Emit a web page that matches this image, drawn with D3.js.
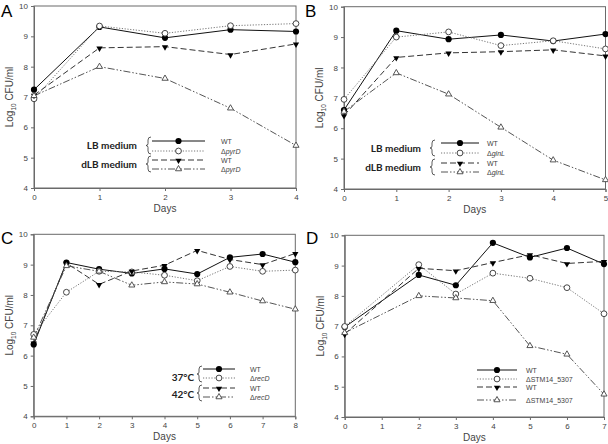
<!DOCTYPE html>
<html><head><meta charset="utf-8">
<script src="https://cdn.jsdelivr.net/npm/d3@7"></script>
<style>body{margin:0;background:#fff}svg{display:block}</style>
</head><body><svg id="c" width="608" height="444"></svg>
<script>
// ---- data ----
const aDays = [0,1,2,3,4];
const aWtLB = [7.24,9.31,8.95,9.22,9.16];
const aMutLB = [6.94,9.34,9.10,9.35,9.42];
const aWtDLB = [7.06,8.62,8.66,8.40,8.75];
const aMutDLB = [7.04,8.00,7.61,6.63,5.40];

const bDays = [0,1,2,3,4,5];
const bWtLB = [6.60,9.21,8.93,9.07,8.87,9.10];
const bMutLB = [6.95,9.00,9.17,8.72,8.88,8.61];
const bWtDLB = [6.42,8.33,8.48,8.52,8.58,8.38];
const bMutDLB = [6.55,7.82,7.12,6.03,4.95,4.30];

const cDays = [0,1,2,3,4,5,6,7,8];
const cWt37 = [6.37,9.07,8.85,8.71,8.86,8.69,9.24,9.35,9.08];
const cMut37 = [6.70,8.09,8.78,8.76,8.65,8.47,8.94,8.78,8.82];
const cWt42 = [6.42,9.05,8.35,8.79,8.98,9.47,9.17,9.00,9.37];
const cMut42 = [6.60,8.96,8.78,8.32,8.43,8.36,8.09,7.80,7.53];

const dDays = [0,2,3,4,5,6,7];
const dWt1 = [6.97,8.69,8.35,9.75,9.27,9.58,9.05];
const dMut1 = [6.99,9.03,8.06,8.75,8.58,8.27,7.41];
const dWt2 = [6.74,8.91,8.83,9.10,9.36,9.07,9.14];
const dMut2 = [6.78,8.00,7.93,7.84,6.35,6.07,4.75];

const yTicks = [4,5,6,7,8,9,10];

// ---- styles ----
const styles = [
  {dash:null, color:"#111", marker:"fcircle", width:1},
  {dash:"1.2,1.6", color:"#777", marker:"ocircle", width:1},
  {dash:"6,3", color:"#333", marker:"ftri", width:1},
  {dash:"7,2,1.5,2,1.5,2", color:"#555", marker:"otri", width:1}
];

const svg = d3.select("#c");
const font = "Arial, 'Liberation Sans', sans-serif";

function marker(g, type, x, y) {
  if (type === "fcircle") g.append("circle").attr("cx",x).attr("cy",y).attr("r",3.1).attr("fill","#000");
  else if (type === "ocircle") g.append("circle").attr("cx",x).attr("cy",y).attr("r",2.9).attr("fill","#fff").attr("stroke","#333").attr("stroke-width",0.9);
  else if (type === "ftri") g.append("path").attr("d",d3.symbol().type(d3.symbolTriangle).size(17)()).attr("transform",`translate(${x},${y+0.5}) rotate(180)`).attr("fill","#000");
  else g.append("path").attr("d",d3.symbol().type(d3.symbolTriangle).size(16)()).attr("transform",`translate(${x},${y})`).attr("fill","#fff").attr("stroke","#444").attr("stroke-width",0.9);
}

function panel(cfg) {
  const x = d3.scaleLinear().domain([0, cfg.xmax]).range([cfg.l, cfg.r]);
  const y = d3.scaleLinear().domain([4, 10]).range([cfg.b, cfg.t]);
  const g = svg.append("g");
  g.append("rect").attr("x",cfg.l).attr("y",cfg.t).attr("width",cfg.r-cfg.l).attr("height",cfg.b-cfg.t)
    .attr("fill","none").attr("stroke","#6a6a6a").attr("stroke-width",1);
  const xa = g.append("g").attr("transform",`translate(0,${cfg.b})`)
    .call(d3.axisBottom(x).tickValues(d3.range(0,cfg.xmax+1)).tickFormat(d3.format("d")).tickSize(3).tickPadding(3));
  const ya = g.append("g").attr("transform",`translate(${cfg.l},0)`)
    .call(d3.axisLeft(y).tickValues(yTicks).tickFormat(d3.format("d")).tickSize(3).tickPadding(3));
  [xa, ya].forEach(a => {
    a.select(".domain").attr("stroke","#6a6a6a");
    a.selectAll(".tick line").attr("stroke","#6a6a6a");
    a.selectAll("text").attr("font-family",font).attr("font-size",8).attr("fill","#444");
  });
  g.append("text").attr("x",(cfg.l+cfg.r)/2).attr("y",cfg.b+24).attr("text-anchor","middle")
    .attr("font-family",font).attr("font-size",10).attr("fill","#444").text("Days");
  const yl = g.append("text").attr("transform",`translate(${cfg.l-21},${(cfg.t+cfg.b)/2}) rotate(-90)`)
    .attr("text-anchor","middle").attr("font-family",font).attr("font-size",10).attr("fill","#444");
  yl.append("tspan").text("Log");
  yl.append("tspan").attr("font-size",6.5).attr("dy",3).text("10");
  yl.append("tspan").attr("dy",-3).text(" CFU/ml");
  svg.append("text").attr("x",cfg.lx).attr("y",cfg.ly).attr("font-family",font).attr("font-size",17).attr("fill","#000").text(cfg.letter);
  cfg.series.forEach((s, i) => {
    const st = styles[i];
    const line = d3.line().x((d,j)=>x(cfg.days[j])).y(d=>y(d));
    g.append("path").attr("d",line(s)).attr("fill","none").attr("stroke",st.color)
      .attr("stroke-width",st.width).attr("stroke-dasharray",st.dash);
  });
  cfg.series.forEach((s, i) => {
    s.forEach((v, j) => marker(g, styles[i].marker, x(cfg.days[j]), y(v)));
  });
  const L = cfg.legend;
  L.rows.forEach((ry, i) => {
    const st = styles[i];
    g.append("line").attr("x1",L.x1).attr("x2",L.x2).attr("y1",ry).attr("y2",ry)
      .attr("stroke",st.color).attr("stroke-width",st.width).attr("stroke-dasharray",st.dash);
    marker(g, st.marker, (L.x1+L.x2)/2, ry);
    const t = g.append("text").attr("x",L.tx).attr("y",ry+2.5).attr("font-family",font).attr("font-size",7).attr("fill","#444");
    const lab = L.labels[i];
    if (lab.italic) { t.append("tspan").text("Δ"); t.append("tspan").attr("font-style","italic").text(lab.text); }
    else t.text(lab.text);
  });
  if (L.groups) {
    L.groups.forEach(gr => {
      g.append("text").attr("x",gr.x).attr("y",gr.y).attr("text-anchor","end")
        .attr("font-family","Lato, 'Open Sans', sans-serif").attr("font-weight","bold").attr("font-size",10).attr("fill","#222").text(gr.text);
      const bx = gr.bx, y0 = gr.y0, y1 = gr.y1, ym = (y0+y1)/2;
      g.append("path").attr("d",`M${bx+3},${y0} Q${bx},${y0} ${bx},${y0+3} L${bx},${ym-2} Q${bx},${ym} ${bx-2},${ym} Q${bx},${ym} ${bx},${ym+2} L${bx},${y1-3} Q${bx},${y1} ${bx+3},${y1}`)
        .attr("fill","none").attr("stroke","#333").attr("stroke-width",0.8);
    });
  }
}

panel({letter:"A", lx:1, ly:17, l:34, r:296, t:6, b:188, xmax:4, days:aDays,
  series:[aWtLB,aMutLB,aWtDLB,aMutDLB],
  legend:{x1:152, x2:205, tx:221, rows:[141,151,160,169],
    labels:[{text:"WT"},{text:"pyrD",italic:true},{text:"WT"},{text:"pyrD",italic:true}],
    groups:[{text:"LB medium", x:137, y:149, bx:148, y0:137, y1:154},{text:"dLB medium", x:137, y:168, bx:148, y0:156, y1:172}]}});

panel({letter:"B", lx:305, ly:17, l:344, r:605.5, t:6.7, b:189, xmax:5, days:bDays,
  series:[bWtLB,bMutLB,bWtDLB,bMutDLB],
  legend:{x1:441, x2:479, tx:487, rows:[143,153,163,172],
    labels:[{text:"WT"},{text:"glnL",italic:true},{text:"WT"},{text:"glnL",italic:true}],
    groups:[{text:"LB medium", x:421, y:152, bx:432, y0:140, y1:156},{text:"dLB medium", x:421, y:171, bx:432, y0:159, y1:175}]}});

panel({letter:"C", lx:1, ly:244, l:33.7, r:295.3, t:234.3, b:416.3, xmax:8, days:cDays,
  series:[cWt37,cMut37,cWt42,cMut42],
  legend:{x1:203, x2:235, tx:250, rows:[369,378,388,397],
    labels:[{text:"WT"},{text:"recD",italic:true},{text:"WT"},{text:"recD",italic:true}],
    groups:[{text:"37°C", x:194, y:381, bx:199, y0:366, y1:382},{text:"42°C", x:194, y:398, bx:199, y0:385, y1:401}]}});

panel({letter:"D", lx:306, ly:244, l:344.7, r:604, t:235.3, b:417, xmax:7, days:dDays,
  series:[dWt1,dMut1,dWt2,dMut2],
  legend:{x1:477, x2:517, tx:526, rows:[370,379,387,400],
    labels:[{text:"WT"},{text:"ΔSTM14_5307"},{text:"WT"},{text:"ΔSTM14_5307"}]}});
</script></body></html>
